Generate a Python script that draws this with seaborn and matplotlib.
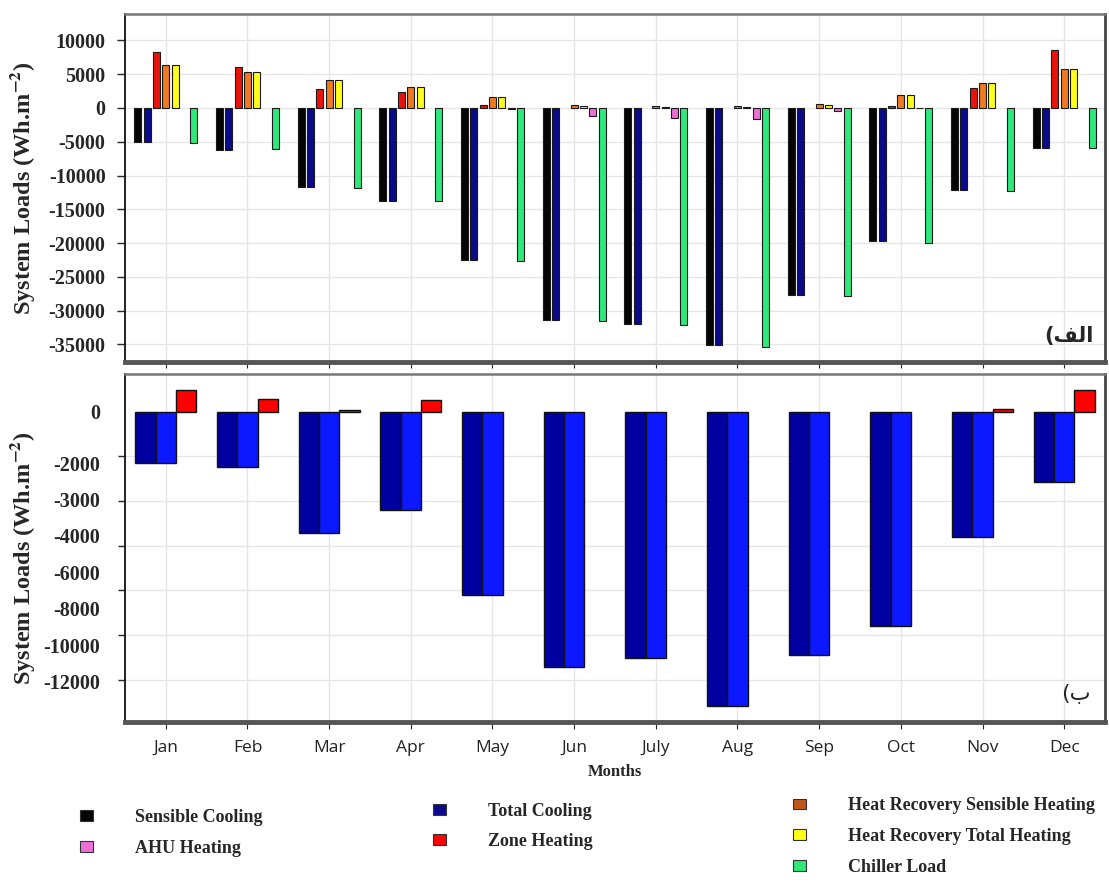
import numpy as np
import pandas as pd
import matplotlib
matplotlib.use("Agg")
import matplotlib.pyplot as plt
from matplotlib.patches import Patch
from matplotlib.ticker import FixedLocator, MultipleLocator
import seaborn as sns

months = ["Jan", "Feb", "Mar", "Apr", "May", "Jun", "July", "Aug", "Sep", "Oct", "Nov", "Dec"]

# panel (a) - system loads, Wh/m2
sensible_a = [-5030, -6160, -11700, -13820, -22450, -31340, -32040, -35150, -27740, -19740, -12190, -5870]
total_a = [-5030, -6160, -11700, -13820, -22450, -31340, -32040, -35150, -27740, -19740, -12190, -5870]
zone_a = [8300, 6070, 2810, 2370, 400, 0, 0, 0, 0, 300, 3020, 8550]
hr_sens_a = [6320, 5330, 4100, 3110, 1600, 400, 300, 300, 650, 1880, 3700, 5730]
hr_total_a = [6320, 5330, 4100, 3110, 1600, 300, 150, 150, 500, 1880, 3700, 5730]
ahu_a = [0, 0, 0, 0, -100, -1180, -1480, -1570, -490, -50, 0, 0]
chiller_a = [-5180, -6100, -11790, -13820, -22660, -31550, -32180, -35400, -27890, -19930, -12340, -5870]
yticks_a = list(range(-35000, 10001, 5000))

# panel (b)
cooling_b = [-2290, -2470, -5450, -4410, -8220, -11440, -11010, -13180, -10880, -9600, -5630, -3140]
zone_b = [970, 560, 80, 520, 0, 0, 0, 0, 0, 0, 100, 970]
ytick_labels_b = ["0", "-2000", "-3000", "-4000", "-6000", "-8000", "-10000", "-12000"]
ytick_pos_b = [0, -2300, -3930, -5560, -7190, -8820, -10450, -12080]

sns.set_style("white")
plt.rcParams["font.family"] = ["Liberation Serif", "DejaVu Sans"]
plt.rcParams["axes.unicode_minus"] = False
plt.rcParams["mathtext.fontset"] = "stix"

order_a = ["Sensible Cooling", "Total Cooling", "Zone Heating", "Heat Recovery Sensible Heating",
           "Heat Recovery Total Heating", "AHU Heating", "Chiller Load"]
colors_a = {"Sensible Cooling": "#050505", "Total Cooling": "#0a0a8a", "Zone Heating": "#e8140c",
            "Heat Recovery Sensible Heating": "#ee7a22", "Heat Recovery Total Heating": "#ffff1a",
            "AHU Heating": "#ee6fd8", "Chiller Load": "#2ee87c"}

df_a = pd.DataFrame({
    "Sensible Cooling": sensible_a, "Total Cooling": total_a, "Zone Heating": zone_a,
    "Heat Recovery Sensible Heating": hr_sens_a, "Heat Recovery Total Heating": hr_total_a,
    "AHU Heating": ahu_a, "Chiller Load": chiller_a}, index=months)
df_a = df_a.rename_axis("month").reset_index().melt(id_vars="month", var_name="series", value_name="value")

df_b = pd.DataFrame({"Sensible Cooling": cooling_b, "Total Cooling": cooling_b, "Zone Heating": zone_b},
                    index=months)
df_b = df_b.rename_axis("month").reset_index().melt(id_vars="month", var_name="series", value_name="value")
colors_b = {"Sensible Cooling": "#0000a0", "Total Cooling": "#0c18ff", "Zone Heating": "#ff0000"}

fig = plt.figure(figsize=(11.09, 8.88), dpi=100)
ax1 = fig.add_axes([0.1127, 0.5923, 0.8837, 0.3919])
ax2 = fig.add_axes([0.1127, 0.1869, 0.8837, 0.392])

sns.barplot(data=df_a, x="month", y="value", hue="series", order=months, hue_order=order_a,
            palette=colors_a, saturation=1, width=0.8, gap=0.25, edgecolor="#1a1a1a", linewidth=0.8,
            errorbar=None, legend=False, ax=ax1)
sns.barplot(data=df_b, x="month", y="value", hue="series", order=months,
            hue_order=list(colors_b), palette=colors_b, saturation=1, width=0.75, gap=0,
            edgecolor="#111", linewidth=1.0, errorbar=None, legend=False, ax=ax2)

# no outline for empty bars
for ax in (ax1, ax2):
    for p in ax.patches:
        if p.get_height() == 0:
            p.set_linewidth(0)

# panel a axes
ax1.set_xlim(-0.5, 11.5)
ax1.set_ylim(-37600, 13900)
ax1.set_yticks(yticks_a)
ax1.set_yticklabels([str(v) for v in yticks_a], fontsize=14.5, fontweight="bold")
ax1.set_xticks(range(12))
ax1.set_xticklabels([])
ax1.set_xlabel("")
ax1.set_ylabel("System Loads (Wh.m$^{\\mathbf{-2}}$)", fontsize=17.5, fontweight="bold")
ax1.yaxis.set_label_coords(-0.09, 0.5)
ax1.grid(True, color="#e6e6e6", lw=1)
ax1.set_axisbelow(True)
ax1.tick_params(axis="y", length=6, width=1, pad=8, left=True)
ax1.tick_params(axis="x", length=4, bottom=True)
ax1.text(0.988, 0.045, "(\uFED2\uFEDF\uFE8D", transform=ax1.transAxes, ha="right", va="bottom",
         fontsize=15, fontweight="bold", family=["DejaVu Sans"])

# panel b axes
ax2.set_xlim(-0.5, 11.5)
ax2.set_ylim(-13900, 1690)
ax2.yaxis.set_minor_locator(MultipleLocator(2000))
ax2.yaxis.set_major_locator(FixedLocator(ytick_pos_b))
ax2.set_yticklabels(ytick_labels_b, fontsize=14.5, fontweight="bold")
ax2.tick_params(axis="y", which="major", length=0, pad=18)
ax2.tick_params(axis="y", which="minor", length=5, width=1, left=True)
ax2.set_xticks(range(12))
ax2.set_xticklabels(months, fontsize=12.5, family=["Open Sans"], color="#222")
ax2.tick_params(axis="x", length=5, bottom=True, pad=8)
ax2.set_xlabel("Months", fontsize=12, fontweight="bold", labelpad=6)
ax2.set_ylabel("System Loads (Wh.m$^{\\mathbf{-2}}$)", fontsize=17.5, fontweight="bold")
ax2.yaxis.set_label_coords(-0.09, 0.47)
ax2.grid(True, which="minor", axis="y", color="#e6e6e6", lw=1)
ax2.grid(True, which="major", axis="x", color="#e6e6e6", lw=1)
ax2.set_axisbelow(True)
ax2.text(0.985, 0.055, "(\uFE8F", transform=ax2.transAxes, ha="right", va="bottom",
         fontsize=16, family=["DejaVu Sans"])

for ax in (ax1, ax2):
    ax.spines["left"].set_color("#111")
    ax.spines["left"].set_linewidth(1.3)
    ax.spines["top"].set_color("#777")
    ax.spines["top"].set_linewidth(1.8)
    ax.spines["right"].set_color("#444")
    ax.spines["right"].set_linewidth(2)
    ax.spines["bottom"].set_color("#555")
    ax.spines["bottom"].set_linewidth(3.5)

# legend in three blocks
legend_colors = {"Sensible Cooling": "#050505", "AHU Heating": "#ee6fd8", "Total Cooling": "#0a0a8a",
                 "Zone Heating": "#ff0000", "Heat Recovery Sensible Heating": "#c0561a",
                 "Heat Recovery Total Heating": "#ffff1a", "Chiller Load": "#2ee87c"}
blocks = [(["Sensible Cooling", "AHU Heating"], 0.0721, 0.089),
          (["Total Cooling", "Zone Heating"], 0.3904, 0.096),
          (["Heat Recovery Sensible Heating", "Heat Recovery Total Heating", "Chiller Load"], 0.715, 0.102)]
for names, x, y in blocks:
    handles = [Patch(facecolor=legend_colors[n], edgecolor="#333", lw=0.8) for n in names]
    fig.legend(handles, names, loc="upper left", bbox_to_anchor=(x, y), frameon=False,
               borderpad=0, borderaxespad=0, handlelength=0.72, handleheight=0.55,
               handletextpad=2.35, labelspacing=0.75,
               prop={"family": "Liberation Serif", "weight": "bold", "size": 13})

fig.savefig("out.png", dpi=100)
